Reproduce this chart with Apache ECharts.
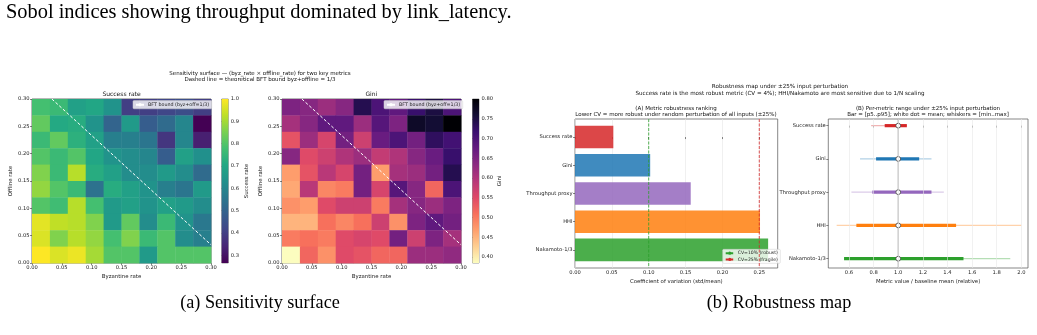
<!DOCTYPE html>
<html><head><meta charset="utf-8">
<script src="https://cdn.jsdelivr.net/npm/echarts@6/dist/echarts.min.js"></script>
<style>html,body{margin:0;padding:0;background:#fff}#c{width:1037px;height:335px}</style>
</head><body><div id="c"></div>
<script>
// ---------------- DATA ----------------
const byzRates = [0.00,0.03,0.06,0.09,0.12,0.15,0.18,0.21,0.24,0.27];
const offRates = [0.00,0.03,0.06,0.09,0.12,0.15,0.18,0.21,0.24,0.27];
const cellStep = 0.03;
// rows listed from top (offline 0.27) to bottom (offline 0.00)
const successRows = [
  [0.78,0.76,0.68,0.70,0.64,0.40,0.40,0.42,0.44,0.40],
  [0.82,0.71,0.72,0.64,0.50,0.66,0.48,0.52,0.60,0.265],
  [0.76,0.82,0.73,0.68,0.58,0.58,0.55,0.38,0.60,0.33],
  [0.80,0.76,0.80,0.70,0.64,0.62,0.60,0.48,0.68,0.63],
  [0.86,0.76,0.92,0.72,0.68,0.62,0.62,0.66,0.62,0.52],
  [0.88,0.80,0.76,0.54,0.72,0.68,0.64,0.58,0.55,0.66],
  [0.80,0.77,0.92,0.78,0.66,0.68,0.64,0.68,0.66,0.62],
  [0.97,0.93,0.92,0.86,0.66,0.82,0.62,0.76,0.64,0.56],
  [0.96,0.86,0.92,0.88,0.78,0.86,0.76,0.80,0.62,0.58],
  [1.00,0.96,0.98,0.90,0.80,0.80,0.66,0.80,0.80,0.80]
];
const giniRows = [
  [0.65,0.64,0.62,0.64,0.74,0.70,0.68,0.72,0.75,0.70],
  [0.61,0.64,0.68,0.68,0.62,0.69,0.65,0.77,0.76,0.80],
  [0.54,0.62,0.56,0.66,0.57,0.67,0.70,0.66,0.73,0.71],
  [0.64,0.55,0.57,0.60,0.62,0.58,0.60,0.64,0.67,0.72],
  [0.47,0.54,0.59,0.56,0.66,0.47,0.61,0.62,0.66,0.74],
  [0.46,0.59,0.49,0.50,0.66,0.56,0.69,0.64,0.52,0.70],
  [0.48,0.47,0.55,0.57,0.57,0.50,0.61,0.64,0.62,0.65],
  [0.45,0.45,0.51,0.49,0.51,0.57,0.48,0.65,0.68,0.66],
  [0.50,0.51,0.50,0.55,0.56,0.55,0.66,0.57,0.65,0.61],
  [0.385,0.52,0.48,0.55,0.54,0.52,0.52,0.62,0.62,0.63]
];
const heatTicks = [0.00,0.05,0.10,0.15,0.20,0.25,0.30];
const successTicks = [0.3,0.4,0.5,0.6,0.7,0.8,0.9,1.0];
const giniTicks = [0.40,0.45,0.50,0.55,0.60,0.65,0.70,0.75,0.80];
const bftSum = 1/3;

const metrics = ['Success rate','Gini','Throughput proxy','HHI','Nakamoto-1/3'];
const metricColors = ['#d62728','#1f77b4','#9467bd','#ff7f0e','#2ca02c'];
const cvValues = [0.052,0.102,0.157,0.251,0.262];
const cvTicks = [0.00,0.05,0.10,0.15,0.20,0.25];
const cvRobust = 0.10, cvFragile = 0.25;
const relMin  = [0.78,0.69,0.62,0.50,0.56];
const relP5   = [0.89,0.82,0.79,0.66,0.56];
const relMean = [1.00,1.00,1.00,1.00,1.00];
const relP95  = [1.07,1.17,1.27,1.47,1.53];
const relMax  = [1.07,1.27,1.37,2.00,1.91];
const relTicks = [0.6,0.8,1.0,1.2,1.4,1.6,1.8,2.0];
const relBaseline = 1.0;

// ---------------- COLORMAPS ----------------
const viridis = ['#440154','#482475','#414487','#355f8d','#2a788e','#21918c','#22a884','#44bf70','#7ad151','#bddf26','#fde725'];
const magmaR = ['#fcfdbf','#fecf92','#fe9f6d','#f7705c','#de4968','#b73779','#8c2981','#641a80','#3b0f70','#140e36','#000004'];

function toCells(rows){
  const out=[];
  rows.forEach((row,ri)=>{ const off = offRates[rows.length-1-ri];
    row.forEach((v,ci)=>out.push([byzRates[ci], off, v])); });
  return out;
}
const succCells = toCells(successRows), giniCells = toCells(giniRows);
const flat = a=>a.reduce((x,y)=>x.concat(y),[]);
const sMin = Math.min(...flat(successRows)), sMax = Math.max(...flat(successRows));
const gMin = Math.min(...flat(giniRows)), gMax = Math.max(...flat(giniRows));

const FONT = 'DejaVu Sans';
const TXT = '#222';
function cellRender(params, api){
  const x0 = api.value(0), y0 = api.value(1);
  const p0 = api.coord([x0, y0+cellStep]);
  const p1 = api.coord([x0+cellStep, y0]);
  return {type:'rect', shape:{x:p0[0], y:p0[1], width:p1[0]-p0[0]+0.4, height:p1[1]-p0[1]+0.4},
          style:{fill: api.visual('color')}};
}
function cbarRender(stops, lo, hi){
  return function(params, api){
    const p0 = api.coord([0, hi]), p1 = api.coord([1, lo]);
    return {type:'rect', shape:{x:p0[0], y:p0[1], width:p1[0]-p0[0], height:p1[1]-p0[1]},
      style:{fill: new echarts.graphic.LinearGradient(0,1,0,0, stops.map((c,i)=>({offset:i/(stops.length-1), color:c})))}};
  };
}
function rangeRender(params, api){
  const i = api.value(0), c = metricColors[params.dataIndex];
  const a = api.coord([api.value(1), i]), b = api.coord([api.value(5), i]);
  const p = api.coord([api.value(2), i]), q = api.coord([api.value(4), i]);
  const m = api.coord([api.value(3), i]);
  return {type:'group', children:[
    {type:'line', shape:{x1:a[0],y1:a[1],x2:b[0],y2:b[1]}, style:{stroke:c, lineWidth:1.3, opacity:0.35}},
    {type:'line', shape:{x1:p[0],y1:p[1],x2:q[0],y2:q[1]}, style:{stroke:c, lineWidth:3.2}},
    {type:'circle', shape:{cx:m[0], cy:m[1], r:2.4}, style:{fill:'#fff', stroke:'#444', lineWidth:0.8}}
  ]};
}
const tickStyle = {show:true, length:2, lineStyle:{color:'#333', width:0.6}};
const lbl = (extra)=>Object.assign({fontSize:5.2, fontFamily:FONT, color:TXT, margin:2.5}, extra||{});
const nameStyle = {fontSize:5.4, fontFamily:FONT, color:TXT};
const gridBase = {show:true, borderColor:'#333', borderWidth:0.7, backgroundColor:'transparent', outerBoundsMode:'none', containLabel:false};

function heatX(gi){ return {gridIndex:gi, type:'value', min:0, max:0.30, interval:0.05,
  axisLine:{show:false}, axisTick:tickStyle, splitLine:{show:false},
  axisLabel:lbl({formatter:v=>v.toFixed(2)}), name:'Byzantine rate', nameLocation:'middle', nameGap:11, nameTextStyle:nameStyle}; }
function heatY(gi){ return {gridIndex:gi, type:'value', min:0, max:0.30, interval:0.05,
  axisLine:{show:false}, axisTick:tickStyle, splitLine:{show:false},
  axisLabel:lbl({formatter:v=>v.toFixed(2)}), name:'Offline rate', nameLocation:'middle', nameGap:19, nameRotate:90, nameTextStyle:nameStyle}; }
function cbarY(gi, lo, hi, ticks, dec, name){ return {gridIndex:gi, type:'value', min:lo, max:hi, position:'right',
  axisLine:{show:false}, axisTick:Object.assign({customValues:ticks}, tickStyle), splitLine:{show:false},
  axisLabel:lbl({customValues:ticks, formatter:v=>v.toFixed(dec)}), name:name, nameLocation:'middle', nameGap:dec===1?16:18, nameRotate:90, nameTextStyle:nameStyle}; }
const hiddenX = (gi,min,max)=>({gridIndex:gi, type:'value', min:min, max:max, show:false});

const bftName = 'BFT bound (byz+off=1/3)';
const bftLine = [[bftSum-0.30, 0.30],[0.30, bftSum-0.30]];

const txt = (x,y,text,size,opts)=>Object.assign({type:'text', x:x, y:y, silent:true,
  style:Object.assign({text:text, fontSize:size, fontFamily:FONT, fill:'#111', textAlign:'center', textVerticalAlign:'middle', lineHeight:size*1.25}, (opts||{}))});

const option = {
  animation:false,
  backgroundColor:'#fff',
  grid:[
    Object.assign({left:32, top:99, width:179, height:164}, gridBase),
    Object.assign({left:221.7, top:99, width:6.6, height:164}, gridBase, {borderWidth:0.5}),
    Object.assign({left:282, top:99, width:179, height:164}, gridBase),
    Object.assign({left:472.5, top:99, width:6.5, height:164}, gridBase, {borderWidth:0.5}),
    Object.assign({left:575, top:119, width:202.7, height:149}, gridBase, {borderColor:'#555'}),
    Object.assign({left:575, top:122.9, width:202.7, height:141.1}, gridBase, {show:false}),
    Object.assign({left:828.3, top:119, width:199.7, height:149}, gridBase, {borderColor:'#555'})
  ],
  xAxis:[
    heatX(0), hiddenX(1,0,1), heatX(2), hiddenX(3,0,1),
    {gridIndex:4, type:'value', min:0, max:0.275, interval:0.05, axisLine:{show:false},
     axisTick:Object.assign({customValues:cvTicks}, tickStyle),
     axisLabel:lbl({customValues:cvTicks, formatter:v=>v.toFixed(2)}),
     splitLine:{show:true, lineStyle:{color:'#e6e6e6', width:0.6}},
     name:'Coefficient of variation (std/mean)', nameLocation:'middle', nameGap:11, nameTextStyle:nameStyle},
    hiddenX(5,0,0.275),
    {gridIndex:6, type:'value', min:0.432, max:2.054, axisLine:{show:false},
     axisTick:Object.assign({customValues:relTicks}, tickStyle),
     axisLabel:lbl({customValues:relTicks, formatter:v=>v.toFixed(1)}),
     splitLine:{show:false},
     name:'Metric value / baseline mean (relative)', nameLocation:'middle', nameGap:11, nameTextStyle:nameStyle}
  ],
  yAxis:[
    heatY(0), cbarY(1, sMin, sMax, successTicks, 1, 'Success rate'),
    heatY(2), cbarY(3, gMin, gMax, giniTicks, 2, 'Gini'),
    {gridIndex:4, type:'value', min:-0.64, max:4.64, inverse:true, show:false},
    {gridIndex:5, type:'category', data:metrics, inverse:true, axisLine:{show:false},
     axisTick:Object.assign({alignWithLabel:true}, tickStyle), axisLabel:lbl()},
    {gridIndex:6, type:'value', min:-0.2, max:4.28, inverse:true, axisLine:{show:false},
     axisTick:Object.assign({customValues:[0,1,2,3,4]}, tickStyle),
     axisLabel:lbl({customValues:[0,1,2,3,4], formatter:v=>metrics[Math.round(v)]}), splitLine:{show:false}}
  ],
  visualMap:[
    {type:'continuous', show:false, seriesIndex:0, dimension:2, min:sMin, max:sMax, inRange:{color:viridis}},
    {type:'continuous', show:false, seriesIndex:3, dimension:2, min:gMin, max:gMax, inRange:{color:magmaR}}
  ],
  legend:[
    {data:[bftName], left:133, top:100.6, orient:'horizontal', padding:[1.6,2.5,1.6,2], itemWidth:8, itemHeight:4, itemGap:2,
     backgroundColor:'rgba(255,255,255,0.8)', borderColor:'#ccc', borderWidth:0.5, borderRadius:1,
     textStyle:{fontSize:4.8, fontFamily:FONT, color:TXT, padding:[0,0,0,-1]}},
    {data:[bftName], left:384, top:100.6, orient:'horizontal', padding:[1.6,2.5,1.6,2], itemWidth:8, itemHeight:4, itemGap:2,
     backgroundColor:'rgba(255,255,255,0.8)', borderColor:'#ccc', borderWidth:0.5, borderRadius:1,
     textStyle:{fontSize:4.8, fontFamily:FONT, color:TXT, padding:[0,0,0,-1]}},
    {data:['CV=10% (robust)','CV=25% (fragile)'], left:722.7, top:249.3, orient:'vertical', padding:[1.4,2.5,1.4,2], itemWidth:8, itemHeight:4, itemGap:1.2,
     backgroundColor:'rgba(255,255,255,0.8)', borderColor:'#ccc', borderWidth:0.5, borderRadius:1,
     textStyle:{fontSize:4.6, fontFamily:FONT, color:TXT, padding:[0,0,0,-1]}}
  ],
  series:[
    {type:'custom', xAxisIndex:0, yAxisIndex:0, data:succCells, renderItem:cellRender, silent:true, z:1},
    {type:'line', name:bftName, xAxisIndex:0, yAxisIndex:0, data:bftLine, symbol:'none', z:3,
     lineStyle:{color:'#fff', width:1, type:[3,2]}, itemStyle:{color:'#fff'}},
    {type:'custom', xAxisIndex:1, yAxisIndex:1, data:[[0.5, sMin]], renderItem:cbarRender(viridis, sMin, sMax), silent:true},
    {type:'custom', xAxisIndex:2, yAxisIndex:2, data:giniCells, renderItem:cellRender, silent:true, z:1},
    {type:'line', name:bftName, xAxisIndex:2, yAxisIndex:2, data:bftLine, symbol:'none', z:3,
     lineStyle:{color:'#fff', width:1, type:[3,2]}, itemStyle:{color:'#fff'}},
    {type:'custom', xAxisIndex:3, yAxisIndex:3, data:[[0.5, gMin]], renderItem:cbarRender(magmaR, gMin, gMax), silent:true},
    {type:'line', name:'CV=10% (robust)', xAxisIndex:4, yAxisIndex:4, data:[[cvRobust,-0.64],[cvRobust,4.64]], symbol:'none', z:4,
     lineStyle:{color:'#2ca02c', width:0.8, type:[3,1.5]}, itemStyle:{color:'#2ca02c'}},
    {type:'line', name:'CV=25% (fragile)', xAxisIndex:4, yAxisIndex:4, data:[[cvFragile,-0.64],[cvFragile,4.64]], symbol:'none', z:4,
     lineStyle:{color:'#d62728', width:0.8, type:[3,1.5]}, itemStyle:{color:'#d62728'}},
    {type:'bar', xAxisIndex:5, yAxisIndex:5, barCategoryGap:'20%', z:2,
     data:cvValues.map((v,i)=>({value:v, itemStyle:{color:metricColors[i], opacity:0.85}}))},
    {type:'line', xAxisIndex:6, yAxisIndex:6, data:[[relBaseline,-0.2],[relBaseline,4.28]], symbol:'none', z:1,
     lineStyle:{color:'#8c8c8c', width:0.9},
     markLine:{silent:true, symbol:'none', label:{show:false}, lineStyle:{color:'#e8e8e8', width:0.6, type:'solid'},
       data:relTicks.map(v=>({xAxis:v}))}},
    {type:'custom', xAxisIndex:6, yAxisIndex:6, z:3, renderItem:rangeRender,
     data:metrics.map((m,i)=>[i, relMin[i], relP5[i], relMean[i], relP95[i], relMax[i]])}
  ],
  graphic:[
    txt(6, 12.5, 'Sobol indices showing throughput dominated by link_latency.', 20.4, {fontFamily:'Liberation Serif', textAlign:'left', fill:'#000'}),
    txt(260, 303, '(a) Sensitivity surface', 18.2, {fontFamily:'Liberation Serif', fill:'#000'}),
    txt(779, 303, '(b) Robustness map', 18.2, {fontFamily:'Liberation Serif', fill:'#000'}),
    txt(260, 76.7, 'Sensitivity surface \u2014 (byz_rate \u00d7 offline_rate) for two key metrics\nDashed line = theoretical BFT bound byz+offline = 1/3', 5.5, {lineHeight:6.7}),
    txt(121.5, 94, 'Success rate', 6),
    txt(371.3, 94, 'Gini', 6),
    txt(780, 90.3, 'Robustness map under \u00b125% input perturbation\nSuccess rate is the most robust metric (CV = 4%); HHI/Nakamoto are most sensitive due to 1/N scaling', 5.6, {lineHeight:7.3}),
    txt(676, 111.2, '(A) Metric robustness ranking\nLower CV = more robust under random perturbation of all inputs (\u00b125%)', 5.5, {lineHeight:5.8}),
    txt(928, 111.2, '(B) Per-metric range under \u00b125% input perturbation\nBar = [p5..p95]; white dot = mean; whiskers = [min..max]', 5.5, {lineHeight:5.8})
  ]
};
const chart = echarts.init(document.getElementById('c'), null, {renderer:'canvas'});
chart.setOption(option);
</script>
</body></html>
